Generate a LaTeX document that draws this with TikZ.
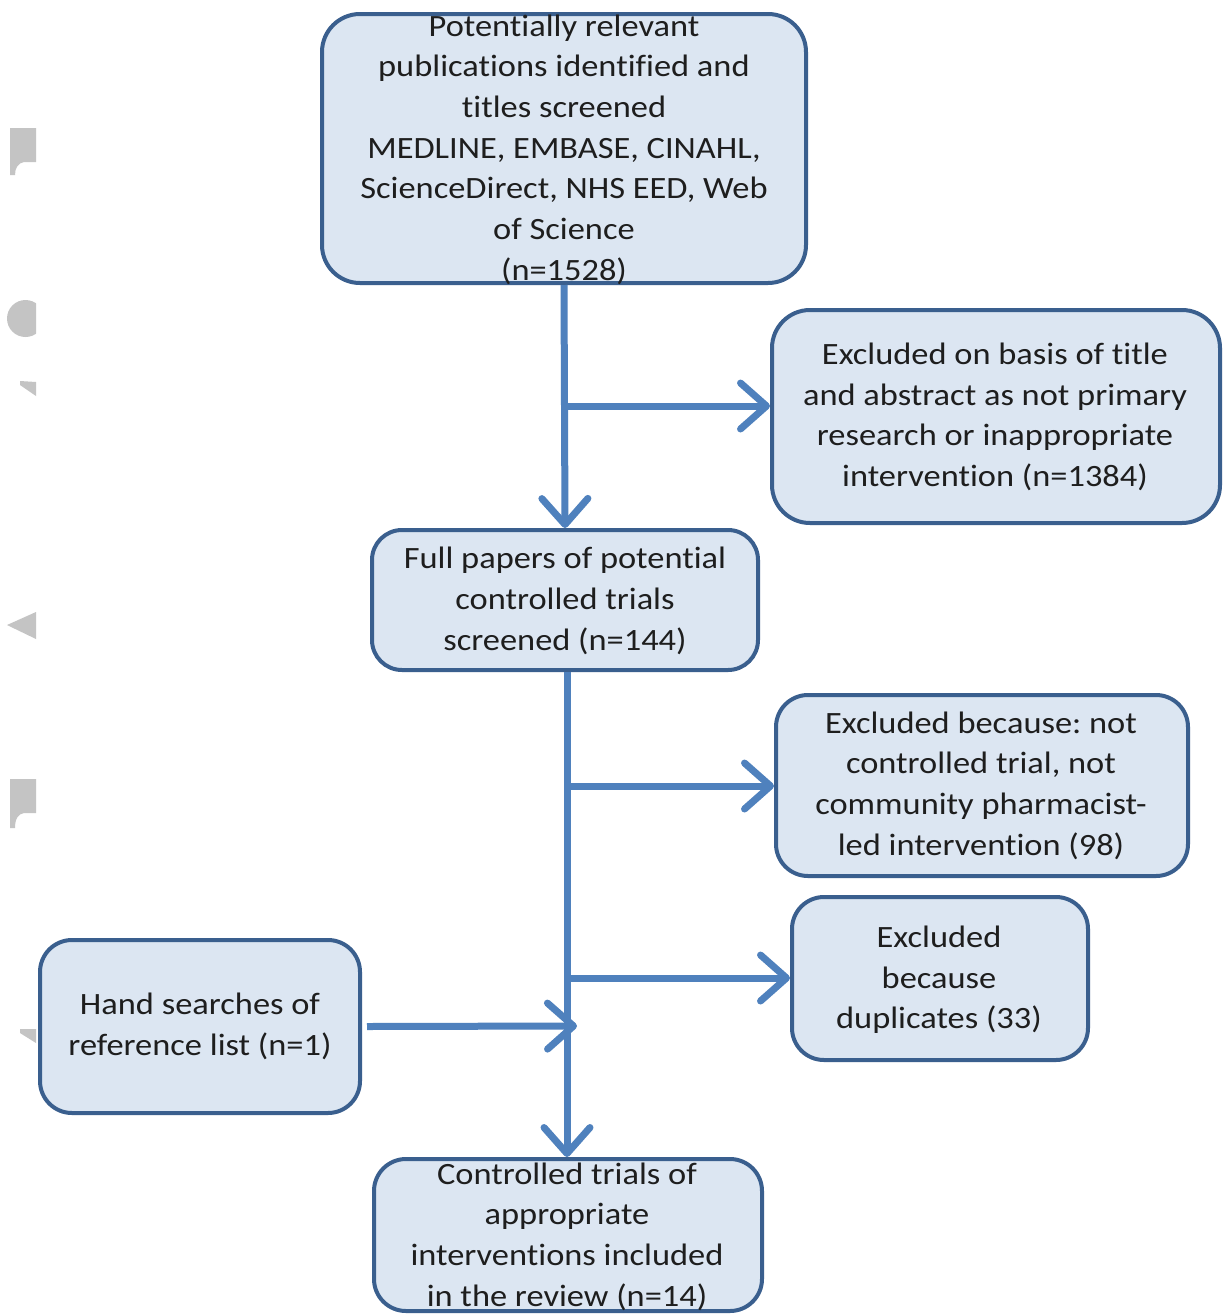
\documentclass[tikz,border=0pt]{standalone}
\usepackage{fontspec}
\setmainfont{Carlito}[FakeStretch=1.11, Ligatures=NoCommon]
\usetikzlibrary{arrows.meta}
\definecolor{boxfill}{HTML}{DCE6F2}
\definecolor{boxline}{HTML}{3A5F8E}
\definecolor{arrowblue}{HTML}{4F81BD}
\definecolor{txt}{HTML}{1E1E1E}
\definecolor{ghost}{HTML}{C4C4C4}
\tikzset{
  box/.style={draw=boxline, fill=boxfill, line width=4pt, rounded corners=38pt, inner sep=0pt},
  lbl/.style={align=center, text=txt, inner sep=0pt, font=\fontsize{31}{40.7}\selectfont\frenchspacing},
  arr/.style={draw=arrowblue, line width=7pt, -{Straight Barb[length=26pt, width=46pt, round]}},
}
\begin{document}
\begin{tikzpicture}[x=1pt, y=-1pt]
\useasboundingbox (0,0) rectangle (1225,1315);
\fill[white] (0,0) rectangle (1225,1315);
% grey fragments at the left edge
\fill[ghost] (10,128) -- (36,128) -- (36,162) -- (24,162) .. controls (18,163) and (15,168) .. (15,175) -- (10,175) -- cycle;
\begin{scope}
\clip (0,290) rectangle (36,345);
\fill[ghost] (25.5,318.5) circle [radius=18.5pt];
\end{scope}
\fill[ghost] (20,381) -- (36,382) -- (36,396) -- (20,385) -- cycle;
\fill[ghost] (7,625) -- (36,612) -- (36,639) -- cycle;
\fill[ghost] (10,779) -- (36,779) -- (36,813) -- (24,813) .. controls (18,814) and (15,819) .. (15,828) -- (10,828) -- cycle;
\fill[ghost] (20,1029) -- (36,1029) -- (36,1043) -- (20,1033) -- cycle;

% boxes
\node[box, minimum width=484pt, minimum height=269pt] (b1) at (564,148.5) {};
\node[box, minimum width=448pt, minimum height=213pt] (b2) at (996,416.5) {};
\node[box, minimum width=386pt, minimum height=140pt, rounded corners=30pt] (b3) at (565,600) {};
\node[box, minimum width=412pt, minimum height=181pt, rounded corners=32pt] (b4) at (982,785.5) {};
\node[box, minimum width=296pt, minimum height=163pt, rounded corners=32pt] (b5) at (940,978.5) {};
\node[box, minimum width=320pt, minimum height=173pt, rounded corners=32pt] (b6) at (200,1026.5) {};
\node[box, minimum width=388pt, minimum height=152pt, rounded corners=32pt] (b7) at (568,1235) {};

% texts
\node[lbl] (t1) at (564,149.5) {Potentially relevant\\publications identified and\\titles screened\\MEDLINE, EMBASE, CINAHL,\\ScienceDirect, NHS EED, Web\\of Science\\(n=1528)};
\node[lbl] (t2) at (995,417) {Excluded on basis of title\\and abstract as not primary\\research or inappropriate\\intervention (n=1384)};
\node[lbl] (t3) at (565,601) {Full papers of potential\\controlled trials\\screened (n=144)};
\node[lbl] (t4) at (981,785.5) {Excluded because: not\\controlled trial, not\\community pharmacist-\\led intervention (98)};
\node[lbl] (t5) at (939,980) {Excluded\\because\\duplicates (33)};
\node[lbl] (t6) at (200,1026.5) {Hand searches of\\reference list (n=1)};
\node[lbl] (t7) at (567,1236.5) {Controlled trials of\\appropriate\\interventions included\\in the review (n=14)};

% junctions
\coordinate (j1) at (565,406);
\coordinate (j2) at (567,786);
\coordinate (j3) at (567,978);
\coordinate (m) at (577,1026);
\coordinate (s3) at (567,672);

% connectors
\draw[arr] (b1.south) -- (b3.north);
\draw[arr] (j1) -- (j1 -| b2.west);
\draw[arr] (s3) -- (s3 |- b7.north);
\draw[arr] (j2) -- (j2 -| b4.west);
\draw[arr] (j3) -- (j3 -| b5.west);
\draw[arr] ([xshift=5pt]b6.east) -- (m);
\end{tikzpicture}
\end{document}
